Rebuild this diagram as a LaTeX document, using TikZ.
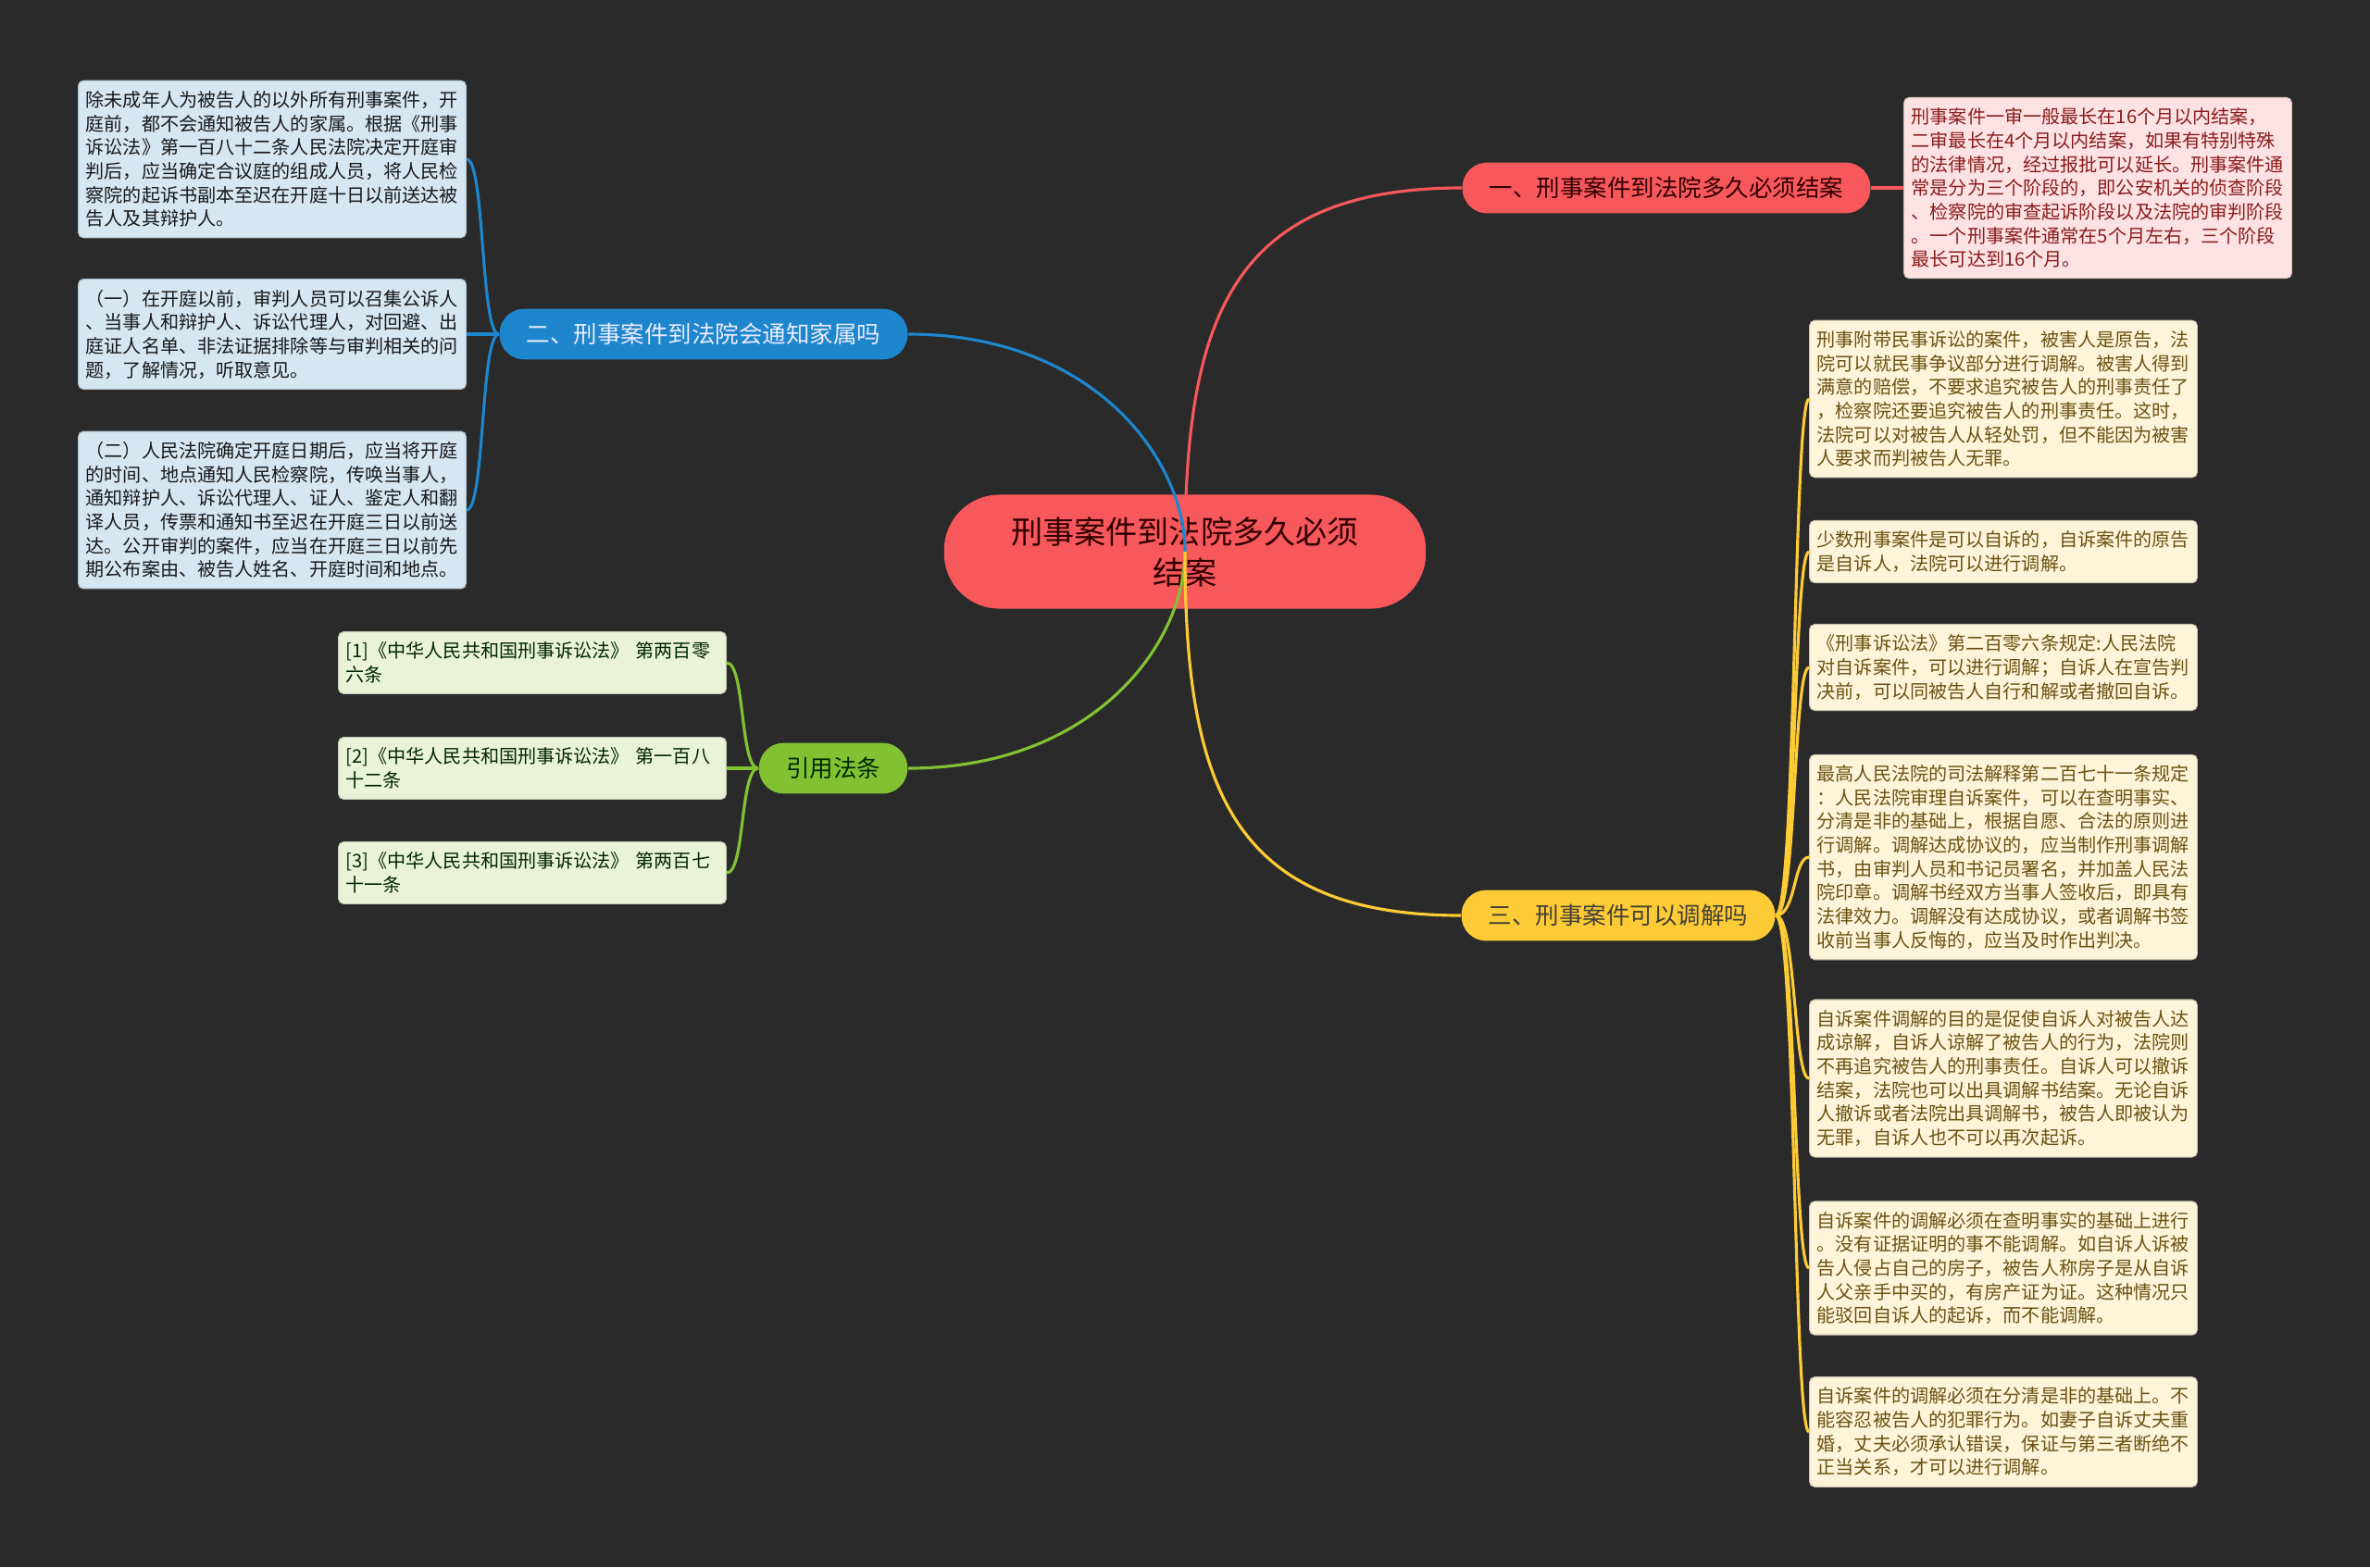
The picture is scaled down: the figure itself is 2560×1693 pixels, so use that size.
\documentclass[tikz,border=0pt]{standalone}
\usepackage{fontspec}
\setmainfont{Noto Sans CJK SC}
\usepackage{xcolor}

\definecolor{bgdark}{HTML}{2A2A2A}
\definecolor{redmain}{HTML}{F6585C}
\definecolor{redleaf}{HTML}{FDE2E3}
\definecolor{redtext}{HTML}{8A1C1C}
\definecolor{bluemain}{HTML}{1D86CC}
\definecolor{blueleaf}{HTML}{D4E7F3}
\definecolor{greenmain}{HTML}{82C232}
\definecolor{greenleaf}{HTML}{EAF3D7}
\definecolor{yellowmain}{HTML}{FDCB35}
\definecolor{yellowleaf}{HTML}{FDF4D9}
\definecolor{yellowtext}{HTML}{6B5212}

\begin{document}
\begin{tikzpicture}[x=0.01cm, y=-0.01cm,
    root/.style = {fill=redmain, text=black!80!red, rounded corners=17pt, align=center,
                   minimum width=148pt, minimum height=35pt,
                   font=\fontsize{9.7}{12.5}\selectfont},
    topic/.style = {rounded corners=7.6pt, inner xsep=8.3pt, inner ysep=0pt,
                    minimum height=15.6pt, font=\fontsize{7.25}{9}\selectfont},
    leaf/.style = {rounded corners=1.6pt, align=left, text width=114.5pt,
                   inner xsep=2.3pt, inner ysep=3.2pt,
                   font=\fontsize{5.72}{7.3}\selectfont}]

    \fill[bgdark] (0,0) rectangle (2560,1693);

    \node[root] (C) at (1280, 596) {刑事案件到法院多久必须\\结案};

    \begin{scope}[every node/.style = {topic}]
        \node[fill=redmain, text=black!80!red]       (B1) at (1800, 203) {一、刑事案件到法院多久必须结案};
        \node[fill=bluemain, text=white!92!blue]     (B2) at (760, 361)  {二、刑事案件到法院会通知家属吗};
        \node[fill=yellowmain, text=black!85!yellow] (B3) at (1748, 989) {三、刑事案件可以调解吗};
        \node[fill=greenmain, text=black!85!green]   (B4) at (900, 830)  {引用法条};
    \end{scope}

    \begin{scope}[every node/.style = {leaf, fill=redleaf, text=redtext, draw=redleaf!85!black, line width=0.3pt}]
        \node (R1) at (2266, 203) {刑事案件一审一般最长在16个月以内结案，\\二审最长在4个月以内结案，如果有特别特殊\\的法律情况，经过报批可以延长。刑事案件通\\常是分为三个阶段的，即公安机关的侦查阶段\\、检察院的审查起诉阶段以及法院的审判阶段\\。一个刑事案件通常在5个月左右，三个阶段\\最长可达到16个月。};
    \end{scope}

    \begin{scope}[every node/.style = {leaf, fill=blueleaf, text=black!90, draw=blueleaf!85!black, line width=0.3pt}]
        \node (L1) at (294, 172) {除未成年人为被告人的以外所有刑事案件，开\\庭前，都不会通知被告人的家属。根据《刑事\\诉讼法》第一百八十二条人民法院决定开庭审\\判后，应当确定合议庭的组成人员，将人民检\\察院的起诉书副本至迟在开庭十日以前送达被\\告人及其辩护人。};
        \node (L2) at (294, 361) {（一）在开庭以前，审判人员可以召集公诉人\\、当事人和辩护人、诉讼代理人，对回避、出\\庭证人名单、非法证据排除等与审判相关的问\\题，了解情况，听取意见。};
        \node (L3) at (294, 551) {（二）人民法院确定开庭日期后，应当将开庭\\的时间、地点通知人民检察院，传唤当事人，\\通知辩护人、诉讼代理人、证人、鉴定人和翻\\译人员，传票和通知书至迟在开庭三日以前送\\达。公开审判的案件，应当在开庭三日以前先\\期公布案由、被告人姓名、开庭时间和地点。};
    \end{scope}

    \begin{scope}[every node/.style = {leaf, fill=greenleaf, text=black!85!green, draw=greenleaf!85!black, line width=0.3pt}]
        \node (G1) at (575, 716) {[1]《中华人民共和国刑事诉讼法》 第两百零\\六条};
        \node (G2) at (575, 830) {[2]《中华人民共和国刑事诉讼法》 第一百八\\十二条};
        \node (G3) at (575, 943) {[3]《中华人民共和国刑事诉讼法》 第两百七\\十一条};
    \end{scope}

    \begin{scope}[every node/.style = {leaf, fill=yellowleaf, text=yellowtext, draw=yellowleaf!80!black, line width=0.3pt}]
        \node (Y1) at (2164, 431)  {刑事附带民事诉讼的案件，被害人是原告，法\\院可以就民事争议部分进行调解。被害人得到\\满意的赔偿，不要求追究被告人的刑事责任了\\，检察院还要追究被告人的刑事责任。这时，\\法院可以对被告人从轻处罚，但不能因为被害\\人要求而判被告人无罪。};
        \node (Y2) at (2164, 596)  {少数刑事案件是可以自诉的，自诉案件的原告\\是自诉人，法院可以进行调解。};
        \node (Y3) at (2164, 721)  {《刑事诉讼法》第二百零六条规定:人民法院\\对自诉案件，可以进行调解；自诉人在宣告判\\决前，可以同被告人自行和解或者撤回自诉。};
        \node (Y4) at (2164, 926)  {最高人民法院的司法解释第二百七十一条规定\\：人民法院审理自诉案件，可以在查明事实、\\分清是非的基础上，根据自愿、合法的原则进\\行调解。调解达成协议的，应当制作刑事调解\\书，由审判人员和书记员署名，并加盖人民法\\院印章。调解书经双方当事人签收后，即具有\\法律效力。调解没有达成协议，或者调解书签\\收前当事人反悔的，应当及时作出判决。};
        \node (Y5) at (2164, 1165) {自诉案件调解的目的是促使自诉人对被告人达\\成谅解，自诉人谅解了被告人的行为，法院则\\不再追究被告人的刑事责任。自诉人可以撤诉\\结案，法院也可以出具调解书结案。无论自诉\\人撤诉或者法院出具调解书，被告人即被认为\\无罪，自诉人也不可以再次起诉。};
        \node (Y6) at (2164, 1370) {自诉案件的调解必须在查明事实的基础上进行\\。没有证据证明的事不能调解。如自诉人诉被\\告人侵占自己的房子，被告人称房子是从自诉\\人父亲手中买的，有房产证为证。这种情况只\\能驳回自诉人的起诉，而不能调解。};
        \node (Y7) at (2164, 1547) {自诉案件的调解必须在分清是非的基础上。不\\能容忍被告人的犯罪行为。如妻子自诉丈夫重\\婚，丈夫必须承认错误，保证与第三者断绝不\\正当关系，才可以进行调解。};
    \end{scope}

    % main branches
    \begin{scope}[line width=0.9pt]
        \draw[redmain]    (C.center) .. controls +(0,-250) and +(-250,0) .. (B1.west);
        \draw[bluemain]   (C.center) .. controls +(0,-100) and +(200,0)  .. (B2.east);
        \draw[greenmain]  (C.center) .. controls +(0,100)  and +(200,0)  .. (B4.east);
        \draw[yellowmain] (C.center) .. controls +(0,250)  and +(-250,0) .. (B3.west);

        \draw[redmain] (B1.east) -- (R1.west);
        \foreach \n in {L1,L2,L3}
            \draw[bluemain] (B2.west) .. controls +(-20,0) and +(20,0) .. (\n.east);
        \foreach \n in {G1,G2,G3}
            \draw[greenmain] (B4.west) .. controls +(-20,0) and +(20,0) .. (\n.east);
        \foreach \n in {Y1,Y2,Y3,Y4,Y5,Y6,Y7}
            \draw[yellowmain] (B3.east) .. controls +(22,0) and +(-17,0) .. (\n.west);
    \end{scope}
\end{tikzpicture}
\end{document}
